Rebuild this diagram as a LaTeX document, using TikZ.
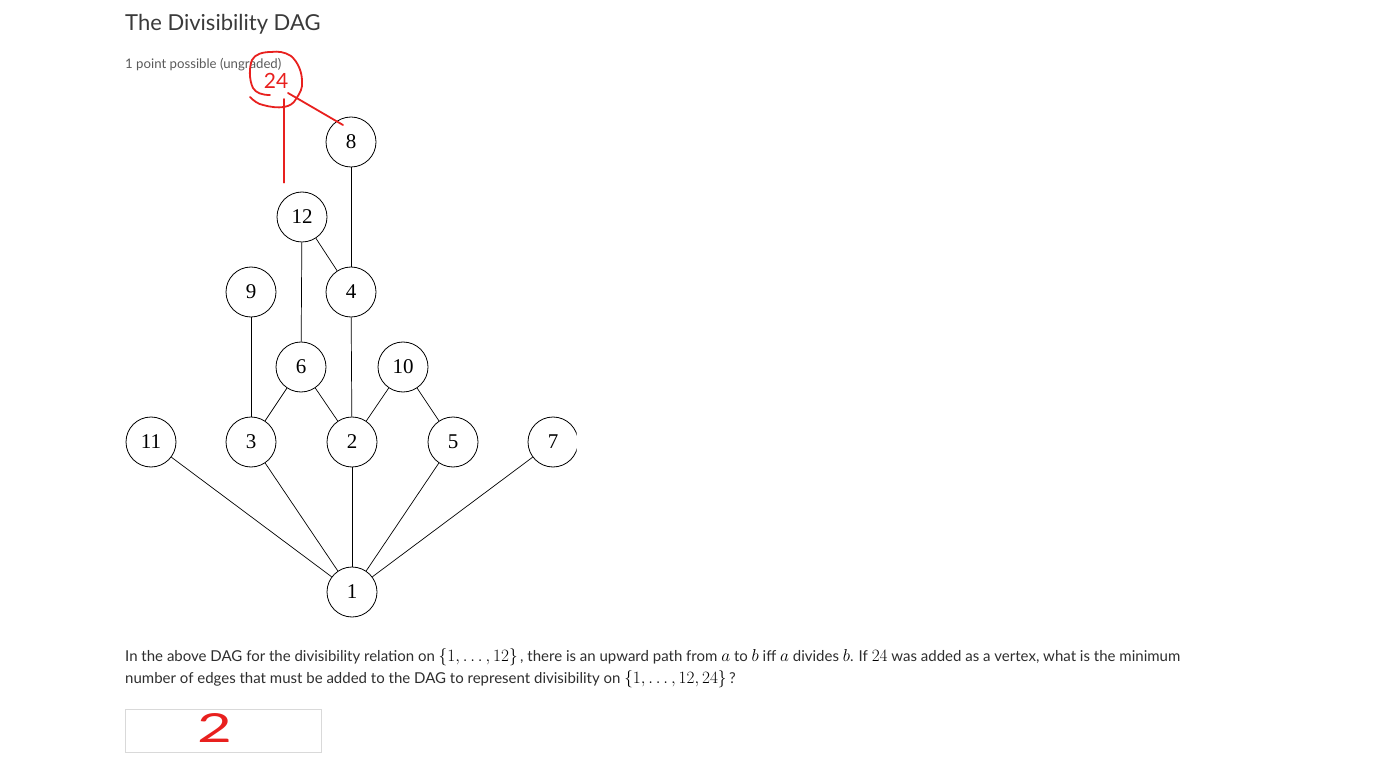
\documentclass[tikz,border=0pt]{standalone}
\usetikzlibrary{calc}
\usepackage{fontspec}
\setmainfont{Lato}
\newfontfamily\numfont{Liberation Serif}
\definecolor{titlegray}{HTML}{3A3A3A}
\definecolor{subgray}{HTML}{5A5A5A}
\definecolor{bodygray}{HTML}{2E2E2E}
\definecolor{boxgray}{HTML}{D9D9D9}
\definecolor{inkred}{HTML}{E8201E}
\newcommand{\mth}[1]{{\fontsize{18}{20}\selectfont\color{black}$#1$}}
\begin{document}
\begin{tikzpicture}[x=1pt,y=-1pt,
  vtx/.style={circle,draw=black,line width=0.8pt,minimum size=50pt,inner sep=0pt,font=\numfont\fontsize{21}{21}\selectfont},
  edge/.style={draw=black,line width=0.7pt},
  ink/.style={draw=inkred,line width=1.8pt,line cap=round,line join=round},
  txt/.style={anchor=base west,inner sep=0pt}]
\useasboundingbox (0,0) rectangle (1387,767);
% header
\node[txt,text=titlegray,font=\fontsize{22}{24}\selectfont] (title) at (125,31) {The Divisibility DAG};
\node[txt,text=subgray,font=\fontsize{13.2}{15}\selectfont] (sub) at (125,69) {1 point possible (ungraded)};
% vertices
\node[vtx] (n8) at (351,142) {8};
\node[vtx] (n12) at (302,217) {12};
\node[vtx] (n9) at (251,292) {9};
\node[vtx] (n4) at (351,292) {4};
\node[vtx] (n6) at (301,367) {6};
\node[vtx] (n10) at (403,367) {10};
\node[vtx] (n11) at (151,442) {11};
\node[vtx] (n3) at (251,442) {3};
\node[vtx] (n2) at (352,442) {2};
\node[vtx] (n5) at (453,442) {5};
\begin{scope}
\clip (0,0) rectangle (576.5,767);
\node[vtx] (n7) at (553,442) {7};
\end{scope}
\node[vtx] (n1) at (352,592) {1};
% edges
\draw[edge] (n8) -- (n4);
\draw[edge] (n12) -- (n4);
\draw[edge] (n12) -- (n6);
\draw[edge] (n9) -- (n3);
\draw[edge] (n4) -- (n2);
\draw[edge] (n6) -- (n3);
\draw[edge] (n6) -- (n2);
\draw[edge] (n10) -- (n2);
\draw[edge] (n10) -- (n5);
\draw[edge] (n11) -- (n1);
\draw[edge] (n3) -- (n1);
\draw[edge] (n2) -- (n1);
\draw[edge] (n5) -- (n1);
\draw[edge] (n7) -- (n1);
% question text
\node[txt,text=bodygray,font=\fontsize{15}{18}\selectfont] (q1) at (125,661) {In the above DAG for the divisibility relation on \mth{\{1,\ldots,12\}}\,, there is an upward path from \mth{a} to \mth{b} iff \mth{a} divides \mth{b}. If \mth{24} was added as a vertex, what is the minimum};
\node[txt,text=bodygray,font=\fontsize{15}{18}\selectfont] (q2) at (125,683) {number of edges that must be added to the DAG to represent divisibility on \mth{\{1,\ldots,12,24\}}\,?};
% answer box
\node[draw=boxgray,line width=1pt,minimum width=196pt,minimum height=43pt,inner sep=0pt,anchor=north west] (ans) at (125,709) {};
% handwritten annotations
\node[text=inkred,font=\fontsize{21}{21}\selectfont,inner sep=0pt] (h24) at (276,81) {24};
\draw[ink] (250,97) .. controls (254,101) and (258,104) .. (263,105)
  .. controls (270,107) and (278,108) .. (284,107)
  .. controls (290,106) and (294,103) .. (296,99)
  .. controls (300,93) and (303,88) .. (302,81)
  .. controls (302,72) and (298,62) .. (291,56)
  .. controls (285,52) and (278,51) .. (271,52)
  .. controls (263,52) and (255,54) .. (252,60)
  .. controls (249,67) and (249,80) .. (253,88)
  .. controls (256,93) and (262,95) .. (270,95);
\coordinate (t24a) at (284,99);
\coordinate (t24b) at (288,93);
\draw[ink] (t24a) -- ($(n12.north)+(-18,-9)$);
\draw[ink] (t24b) -- ($(n8.center)+(-8,-17)$);
\node[text=inkred,font=\fontsize{40}{40}\selectfont,inner sep=0pt,xscale=1.5] (h2) at (215,728) {2};
\end{tikzpicture}
\end{document}
